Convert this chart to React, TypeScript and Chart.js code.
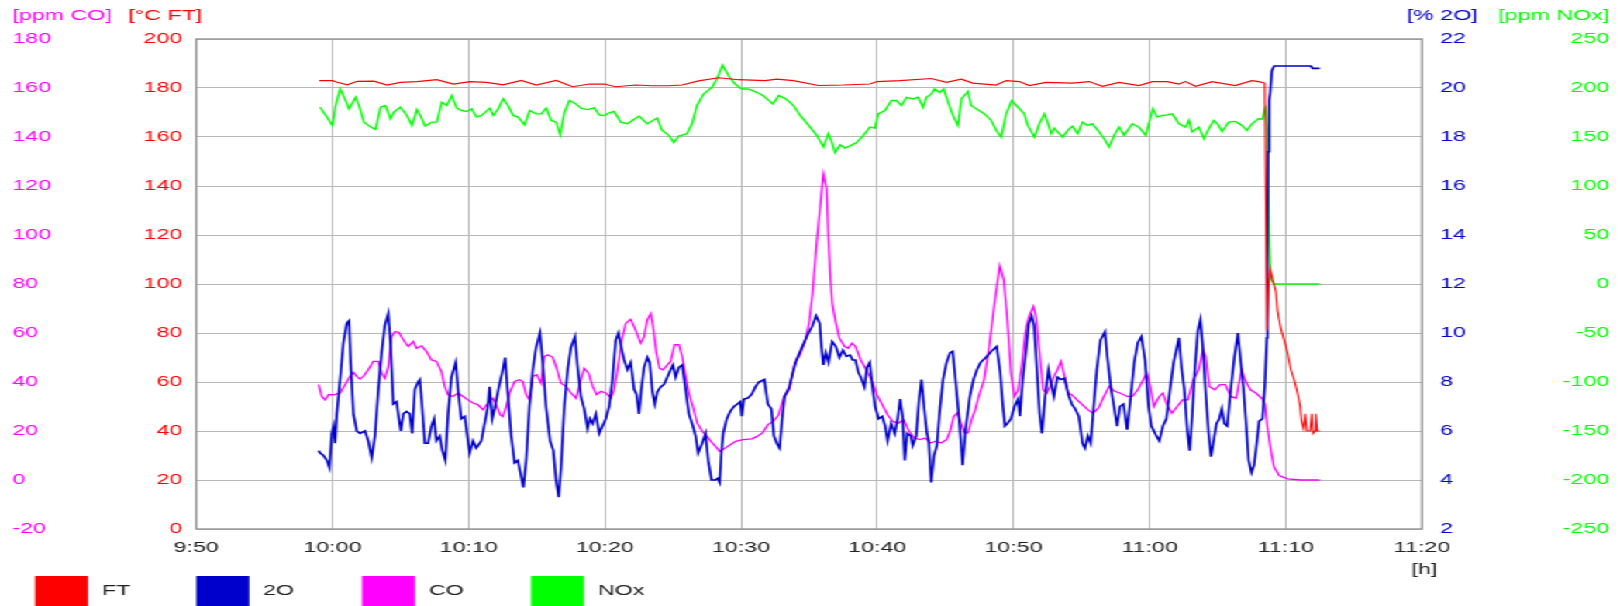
import React, { useEffect, useRef } from 'react';
import { Chart, registerables } from 'chart.js';

Chart.register(...registerables);

// ---- data (x = minutes after midnight, 9:50 = 590) ----
const xMin = 590;
const xMax = 680;

const ftSeries: number[][] = [
[599.03,183.0],[600.0,183.0],[600.36,182.3],[601.09,181.3],[601.82,182.7],[603.04,182.8],[604.01,181.2],[604.99,182.3],[606.20,182.6],[607.66,183.4],[608.88,181.6],[610.10,182.6],[611.31,182.3],[612.53,181.3],[613.87,183.1],[614.96,181.2],[616.42,183.1],[617.64,180.5],[618.86,181.6],[619.95,181.6],[620.80,180.5],[622.26,181.2],[623.48,180.9],[624.70,180.9],[625.67,181.2],[626.89,182.9],[628.35,184.2],[629.81,183.4],[631.75,183.0],[632.63,183.6],[633.85,183.0],[635.68,181.0],[637.51,181.2],[639.46,181.6],[640.0,182.6],[641.66,183.0],[643.98,183.9],[645.07,182.3],[646.17,183.6],[647.02,182.0],[648.73,181.2],[649.46,183.0],[650.44,182.6],[651.17,181.0],[652.39,182.3],[654.34,182.0],[655.56,182.6],[656.54,180.7],[657.76,182.3],[659.22,181.0],[660.20,182.6],[661.29,182.6],[662.15,181.6],[662.63,182.6],[663.37,180.7],[664.59,182.6],[666.29,181.0],[667.51,183.0],[668.0,182.6],[668.45,182.0],[668.55,120],[668.62,81],[668.75,100],[668.85,106],[669.02,102],[669.27,97],[669.39,89],[669.63,82],[669.88,77],[670.12,72],[670.37,65],[670.61,61],[670.86,55.5],[671.05,50],[671.15,44],[671.30,41],[671.42,47],[671.54,40],[671.79,40],[671.91,47],[672.0,39],[672.13,40],[672.2,47],[672.32,40],[672.5,40]
];

const o2Series: number[][] = [
[598.98,5.2],[599.10,5.1],[599.34,5.0],[599.59,4.8],[599.78,4.5],[599.95,5.9],[600.07,6.2],[600.20,5.5],[600.32,6.7],[600.56,8.1],[600.80,9.6],[601.05,10.4],[601.22,10.5],[601.34,8.8],[601.54,6.7],[601.78,6.0],[602.02,5.9],[602.39,6.0],[602.63,5.6],[602.88,4.9],[603.12,5.8],[603.37,7.7],[603.61,9.2],[603.85,10.3],[604.10,10.8],[604.27,9.5],[604.46,7.1],[604.71,7.2],[604.83,6.7],[605.02,6.0],[605.20,6.7],[605.44,6.8],[605.68,6.7],[605.85,5.9],[606.05,7.7],[606.29,8.0],[606.41,8.1],[606.54,7.3],[606.78,5.5],[607.02,5.5],[607.27,6.2],[607.46,6.5],[607.63,5.6],[607.88,5.8],[608.07,5.2],[608.29,4.8],[608.49,6.7],[608.73,8.2],[609.05,8.8],[609.22,7.7],[609.46,6.5],[609.71,6.6],[610.07,5.1],[610.32,5.6],[610.56,5.3],[610.93,5.6],[611.17,6.3],[611.41,7.0],[611.54,7.8],[611.73,6.5],[611.90,6.9],[612.22,7.8],[612.51,8.5],[612.68,9.0],[612.88,7.5],[613.12,5.8],[613.37,4.7],[613.61,4.8],[613.78,4.35],[614.02,3.7],[614.22,4.8],[614.46,7.0],[614.71,8.5],[614.95,9.4],[615.24,10.0],[615.44,8.8],[615.68,7.0],[615.98,5.6],[616.22,5.2],[616.41,4.0],[616.61,3.3],[616.78,4.5],[617.02,7.0],[617.27,8.5],[617.51,9.4],[617.80,9.85],[618.00,8.6],[618.24,7.4],[618.49,6.9],[618.73,6.1],[618.90,6.5],[619.10,6.3],[619.34,6.7],[619.59,5.9],[619.83,6.2],[620.07,6.5],[620.32,7.0],[620.56,8.1],[620.80,9.7],[621.00,10.0],[621.17,9.5],[621.41,8.9],[621.66,8.5],[621.90,8.8],[622.15,7.7],[622.32,7.5],[622.51,6.7],[622.68,7.7],[622.88,8.6],[623.12,9.0],[623.29,8.8],[623.49,7.6],[623.66,7.1],[623.85,7.6],[624.10,7.8],[624.34,7.9],[624.59,8.2],[624.83,8.5],[625.00,8.7],[625.20,8.2],[625.44,8.6],[625.68,8.7],[625.93,7.7],[626.17,6.7],[626.41,6.3],[626.66,5.8],[626.85,5.1],[627.15,5.5],[627.39,5.9],[627.59,4.8],[627.83,4.0],[628.12,4.0],[628.29,4.07],[628.43,3.9],[628.56,5.1],[628.69,5.9],[628.95,6.5],[629.21,6.8],[629.48,7.0],[629.74,7.1],[629.95,7.2],[630.05,6.6],[630.21,7.3],[630.52,7.35],[630.79,7.5],[631.05,7.8],[631.31,8.0],[631.71,8.1],[631.97,7.1],[632.23,6.9],[632.41,5.8],[632.62,5.5],[632.83,5.3],[633.02,6.5],[633.20,7.4],[633.54,7.8],[633.81,8.4],[634.07,8.9],[634.46,9.4],[634.86,9.9],[635.25,10.3],[635.51,10.7],[635.77,10.4],[635.91,9.4],[636.04,8.7],[636.22,9.2],[636.43,8.8],[636.69,9.65],[636.96,9.45],[637.22,9.0],[637.48,9.3],[637.74,9.05],[638.01,9.1],[638.19,8.9],[638.40,8.9],[638.61,8.4],[638.79,8.2],[639.06,7.8],[639.24,8.6],[639.45,8.8],[639.63,7.9],[639.84,7.0],[640.10,6.5],[640.37,6.6],[640.58,6.2],[640.76,5.6],[641.02,6.3],[641.29,5.9],[641.50,6.5],[641.68,7.3],[641.86,6.6],[642.02,4.8],[642.20,5.9],[642.47,5.8],[642.60,5.4],[642.86,5.8],[643.07,7.3],[643.25,8.1],[643.44,7.0],[643.65,5.9],[643.78,5.6],[643.96,3.9],[644.17,5.0],[644.38,5.4],[644.57,6.7],[644.83,8.1],[645.09,8.8],[645.35,9.2],[645.54,9.25],[645.75,8.1],[646.01,6.5],[646.27,4.6],[646.48,6.05],[646.80,7.4],[647.06,8.1],[647.32,8.5],[647.59,8.8],[647.98,9.0],[648.37,9.25],[648.77,9.45],[649.03,8.4],[649.21,7.1],[649.37,6.2],[649.55,6.3],[649.82,6.5],[650.08,7.0],[650.34,7.3],[650.47,6.6],[650.68,8.1],[650.87,9.0],[651.13,10.4],[651.34,10.7],[651.52,10.3],[651.73,8.4],[651.92,6.7],[652.10,5.9],[652.31,7.3],[652.57,8.5],[652.78,7.9],[652.97,7.4],[653.23,8.2],[653.49,8.1],[653.75,8.15],[654.02,7.5],[654.28,7.1],[654.54,6.9],[654.80,6.6],[655.07,5.5],[655.25,5.3],[655.46,5.8],[655.67,5.5],[655.85,6.7],[656.12,8.5],[656.38,9.7],[656.72,10.05],[656.90,9.0],[657.17,7.7],[657.38,7.0],[657.61,6.2],[657.82,7.0],[658.08,7.1],[658.35,6.05],[658.61,7.4],[658.87,8.8],[659.13,9.6],[659.40,9.85],[659.66,8.9],[659.92,7.0],[660.13,6.2],[660.45,5.85],[660.71,5.6],[660.97,6.2],[661.23,6.5],[661.50,7.7],[661.76,8.8],[662.15,9.8],[662.34,8.6],[662.55,7.7],[662.76,6.05],[662.94,5.2],[663.12,6.6],[663.33,8.6],[663.54,10.1],[663.73,10.55],[663.91,9.4],[664.12,7.5],[664.33,5.9],[664.51,4.95],[664.70,5.6],[664.91,6.3],[665.12,6.5],[665.30,6.9],[665.49,6.3],[665.70,6.2],[665.96,7.7],[666.22,9.0],[666.48,10.0],[666.69,8.8],[666.88,7.8],[667.06,6.5],[667.27,4.8],[667.48,4.3],[667.66,4.6],[667.80,5.2],[668.04,6.4],[668.29,6.5],[668.46,7.9],[668.60,9.8],[668.65,13.4],[668.70,17.4],[668.78,19.5],[668.85,19.8],[668.97,20.7],[669.14,20.9],[671.84,20.9],[671.96,20.8],[672.50,20.8]
];

const coSeries: number[][] = [
[598.98,38.9],[599.22,34.1],[599.46,32.7],[599.71,34.8],[600.07,34.8],[600.56,35.5],[600.93,38.9],[601.29,42.3],[601.54,43.9],[601.78,42.3],[602.02,41.2],[602.27,42.3],[602.63,45.0],[603.00,48.4],[603.37,48.4],[603.61,43.6],[603.85,41.5],[604.10,46.3],[604.34,58.5],[604.59,60.6],[604.88,60.2],[605.20,57.2],[605.56,54.5],[605.93,56.5],[606.17,53.8],[606.54,54.7],[606.90,52.5],[607.27,49.0],[607.63,48.4],[608.00,44.3],[608.24,38.2],[608.49,34.8],[608.85,34.1],[609.22,35.5],[609.59,34.1],[609.95,32.7],[610.32,31.4],[610.68,30.7],[611.05,28.7],[611.41,31.4],[611.78,33.4],[612.07,30.0],[612.32,26.6],[612.51,25.9],[612.76,30.0],[613.00,35.5],[613.37,40.2],[613.73,40.9],[613.98,40.2],[614.22,34.8],[614.46,32.7],[614.71,42.3],[615.00,43.0],[615.32,39.5],[615.56,50.4],[615.80,51.1],[616.17,50.1],[616.46,45.6],[616.78,39.5],[617.15,38.2],[617.51,35.5],[617.88,33.4],[618.24,40.9],[618.49,45.6],[618.80,43.6],[619.10,38.2],[619.39,34.8],[619.71,36.2],[620.07,35.5],[620.44,33.4],[620.68,36.8],[620.93,45.0],[621.24,57.2],[621.54,64.0],[621.90,65.6],[622.15,62.6],[622.39,59.2],[622.63,55.8],[622.88,58.5],[623.12,65.3],[623.37,68.0],[623.54,62.6],[623.78,51.8],[624.02,45.6],[624.27,45.0],[624.59,47.0],[624.83,48.4],[625.12,55.2],[625.44,55.2],[625.68,50.4],[625.93,42.3],[626.17,35.5],[626.46,30.0],[626.78,23.2],[627.15,19.9],[627.51,17.8],[627.88,15.1],[628.24,13.0],[628.43,11.7],[628.82,13.0],[629.21,14.4],[629.61,15.8],[630.13,16.5],[630.79,16.8],[631.18,17.8],[631.57,19.2],[631.97,22.6],[632.36,23.9],[632.76,26.6],[633.15,34.1],[633.54,36.8],[633.94,47.7],[634.33,51.1],[634.72,57.2],[634.99,64.0],[635.25,76],[635.55,96.7],[635.80,111],[636.04,125],[636.28,119],[636.40,101],[636.55,83.5],[636.70,72],[636.96,64.0],[637.22,57.9],[637.61,54.5],[637.87,53.8],[638.14,55.8],[638.40,54.5],[638.79,49.0],[639.19,45.0],[639.58,40.9],[639.97,34.8],[640.37,30.7],[640.76,26.6],[641.15,23.9],[641.55,23.2],[641.94,24.6],[642.34,19.9],[642.73,17.1],[643.12,16.5],[643.52,17.1],[643.91,15.1],[644.30,15.8],[644.70,15.1],[645.09,16.5],[645.35,19.9],[645.62,26.0],[645.88,27.3],[646.14,23.2],[646.40,19.2],[646.67,19.2],[646.93,24.6],[647.19,28.7],[647.45,34.1],[647.85,40.9],[648.11,50.4],[648.37,61.3],[648.64,73.5],[648.85,81.6],[649.00,87.4],[649.29,81.6],[649.55,65.3],[649.82,43.6],[650.08,34.1],[650.34,36.8],[650.60,46.3],[650.87,59.9],[651.13,66.7],[651.47,70.8],[651.65,66.7],[651.92,51.8],[652.18,36.8],[652.44,35.5],[652.70,38.2],[652.97,42.3],[653.23,45.0],[653.49,48.4],[653.75,42.3],[654.02,35.5],[654.28,34.8],[654.67,32.7],[655.07,30.7],[655.46,28.7],[655.85,27.3],[656.25,29.4],[656.64,34.1],[657.03,38.2],[657.43,36.2],[657.82,35.5],[658.35,34.1],[658.74,34.1],[659.13,36.8],[659.53,40.9],[659.79,43.6],[660.05,38.2],[660.31,30.0],[660.71,34.1],[660.97,35.5],[661.23,31.4],[661.63,27.3],[662.02,30.0],[662.41,32.7],[662.81,32.7],[663.20,40.9],[663.60,45.0],[663.91,53.1],[664.12,50.4],[664.38,38.2],[664.78,36.8],[665.17,38.9],[665.56,38.9],[665.96,34.1],[666.35,33.4],[666.75,45.0],[667.01,40.9],[667.40,36.8],[667.80,35.5],[668.29,33.0],[668.46,31.0],[668.65,21.4],[668.90,12.0],[669.14,5.2],[669.51,1.8],[670.12,0.5],[671.10,0],[672.50,0]
];

const noxSeries: number[][] = [
[599.10,180.4],[599.51,172.0],[600.0,161.8],[600.24,182.1],[600.56,199.0],[600.85,190.9],[601.22,178.7],[601.70,190.5],[601.95,182.1],[602.31,165.2],[602.80,160.1],[603.16,157.8],[603.53,180.4],[603.89,182.1],[604.26,168.6],[604.50,175.3],[604.99,180.4],[605.47,172.0],[605.84,161.8],[606.20,178.0],[606.45,172.0],[606.81,161.1],[607.30,165.2],[607.66,165.2],[608.03,185.5],[608.39,182.1],[608.76,192.2],[609.12,179.4],[609.49,177.0],[609.85,176.0],[610.22,178.7],[610.58,170.3],[610.95,172.0],[611.56,179.4],[611.80,172.0],[612.17,178.7],[612.53,188.9],[612.90,182.1],[613.26,172.0],[613.63,170.3],[614.11,162.5],[614.48,177.0],[614.96,173.6],[615.33,173.6],[615.69,179.4],[616.06,166.9],[616.42,165.2],[616.72,152.4],[617.03,175.3],[617.40,187.2],[617.88,183.8],[618.25,179.4],[618.73,178.0],[619.22,179.7],[619.59,172.6],[619.95,172.0],[620.32,174.7],[620.68,176.0],[621.17,165.2],[621.65,163.5],[622.02,166.9],[622.51,171.3],[623.11,163.5],[623.84,169.3],[624.21,156.8],[624.70,151.7],[625.06,144.3],[625.43,151.0],[626.03,153.4],[626.40,163.5],[626.76,182.1],[627.25,193.9],[627.86,200.7],[628.22,209.1],[628.64,223.3],[629.08,212.5],[629.56,204.1],[630.05,199.0],[630.54,199.0],[631.14,195.6],[631.63,192.2],[631.90,188.9],[632.34,183.8],[632.76,192.2],[633.24,189.5],[633.85,182.1],[634.34,172.0],[635.07,160.1],[635.56,151.7],[636.05,139.9],[636.41,153.4],[636.66,145.0],[636.90,134.1],[637.27,142.2],[637.63,138.8],[638.0,140.9],[638.49,144.3],[638.98,151.7],[639.46,160.1],[639.83,159.1],[640.07,173.6],[640.56,177.0],[641.05,187.2],[641.41,187.2],[641.78,182.1],[642.15,190.5],[642.63,188.9],[643.0,190.5],[643.37,180.4],[643.61,190.5],[643.98,194.0],[644.22,199.0],[644.59,195.6],[644.88,199.0],[645.20,185.5],[645.56,172.0],[645.93,161.8],[646.17,188.9],[646.66,196.3],[646.90,182.1],[647.27,178.7],[647.88,173.6],[648.37,166.9],[648.73,156.8],[649.10,150.0],[649.46,173.6],[649.88,187.2],[650.32,180.4],[650.80,173.6],[651.05,161.8],[651.54,150.0],[651.90,163.5],[652.27,173.6],[652.51,165.2],[652.76,153.4],[653.0,159.1],[653.24,155.1],[653.61,150.0],[653.98,156.8],[654.34,161.1],[654.71,153.4],[655.07,165.2],[655.44,161.8],[655.80,163.5],[656.29,155.1],[656.66,148.3],[657.02,139.9],[657.39,151.7],[657.76,160.1],[658.12,151.7],[658.73,163.5],[659.22,160.1],[659.71,151.7],[660.07,170.3],[660.24,178.7],[660.56,170.3],[660.93,172.0],[661.29,172.6],[661.66,173.6],[662.15,163.5],[662.63,160.1],[662.88,166.9],[663.12,155.1],[663.61,160.1],[663.98,148.3],[664.34,158.4],[664.71,166.9],[665.07,161.8],[665.32,155.7],[665.80,165.2],[666.29,165.9],[666.78,161.8],[667.15,156.8],[667.51,163.5],[668.0,168.6],[668.29,168.4],[668.46,178.6],[668.52,180],[668.65,150],[668.78,40],[668.90,5],[669.14,0],[672.5,0]
];

const legendLabels = ['FT', '2O', 'CO', 'NOx'];
const axisTitles = ['[ppm CO]', '[°C FT]', '[% 2O]', '[ppm NOx]'];
const xAxisUnit = '[h]';

// ---- styling ----
const W = 1045;
const H = 606;
const SX = 1620 / W;
const FONT = '"Liberation Sans", Arial, Helvetica, sans-serif';
const C_FT = '#ff0000';
const C_O2 = '#0000cc';
const C_CO = '#ff00ff';
const C_NOX = '#00ff00';
const GRID = '#b8b8b8';

const toXY = (s: number[][]) => s.map(([x, y]) => ({ x, y }));
const fmtTime = (v: number) => {
  const h = Math.floor(v / 60);
  const m = Math.round(v - h * 60);
  return `${h}:${String(m).padStart(2, '0')}`;
};

const decorPlugin = {
  id: 'decor',
  beforeDatasetsDraw(chart: any) {
    const { ctx, chartArea: a } = chart;
    ctx.save();
    ctx.strokeStyle = '#959595';
    ctx.lineWidth = 1.4;
    ctx.strokeRect(a.left, a.top, a.right - a.left, a.bottom - a.top);
    ctx.restore();
  },
  afterDraw(chart: any) {
    const { ctx } = chart;
    const s = chart.scales;
    ctx.save();
    ctx.font = `15px ${FONT}`;
    ctx.textBaseline = 'middle';
    // axis titles
    ctx.textAlign = 'left';
    ctx.fillStyle = C_CO;
    ctx.fillText(axisTitles[0], s.yCO.left, 16);
    ctx.fillStyle = C_FT;
    ctx.fillText(axisTitles[1], 82.8, 16);
    ctx.fillStyle = C_O2;
    ctx.fillText(axisTitles[2], 907.4, 16);
    ctx.textAlign = 'right';
    ctx.fillStyle = C_NOX;
    ctx.fillText(axisTitles[3], s.yNOx.right, 16);
    // x unit
    ctx.textAlign = 'left';
    ctx.fillStyle = '#222';
    ctx.fillText(xAxisUnit, 910.6, 570);
    // legend
    const colors = [C_FT, C_O2, C_CO, C_NOX];
    const boxX = [22.6, 126.6, 233.5, 342.5];
    const textX = [65.8, 169.7, 276.7, 385.7];
    legendLabels.forEach((lab, i) => {
      ctx.fillStyle = colors[i];
      ctx.fillRect(boxX[i], 576, 34.2, 30);
      ctx.fillStyle = '#222';
      ctx.textAlign = 'left';
      ctx.fillText(lab, textX[i], 591);
    });
    ctx.restore();
  },
};

export default function App() {
  const ref = useRef<HTMLCanvasElement | null>(null);

  useEffect(() => {
    if (!ref.current) return;
    const tickFont = { family: FONT, size: 15 };
    const chart = new Chart(ref.current, {
      type: 'line',
      data: {
        datasets: [
          { label: legendLabels[0], data: toXY(ftSeries), yAxisID: 'yFT', borderColor: C_FT, borderWidth: 1.1, pointRadius: 0, tension: 0 },
          { label: legendLabels[1], data: toXY(o2Series), yAxisID: 'yO2', borderColor: C_O2, borderWidth: 1.6, pointRadius: 0, tension: 0 },
          { label: legendLabels[2], data: toXY(coSeries), yAxisID: 'yCO', borderColor: C_CO, borderWidth: 1.3, pointRadius: 0, tension: 0 },
          { label: legendLabels[3], data: toXY(noxSeries), yAxisID: 'yNOx', borderColor: C_NOX, borderWidth: 1.4, pointRadius: 0, tension: 0 },
        ],
      },
      options: {
        animation: false,
        responsive: false,
        devicePixelRatio: 1,
        parsing: true,
        layout: { padding: { left: 8, right: 6.9, top: 39, bottom: 0 } },
        plugins: { legend: { display: false }, tooltip: { enabled: false }, title: { display: false } },
        scales: {
          x: {
            type: 'linear',
            min: xMin,
            max: xMax,
            ticks: { stepSize: 10, callback: (v: any) => fmtTime(Number(v)), color: '#222', font: tickFont, padding: 10, maxRotation: 0, autoSkip: false },
            grid: { color: GRID, lineWidth: 1, drawTicks: false },
            border: { display: false },
            afterFit: (sc: any) => { sc.height = 77; },
          },
          yCO: {
            type: 'linear',
            position: 'left',
            weight: 1,
            min: -20,
            max: 180,
            ticks: { stepSize: 20, color: C_CO, font: tickFont, crossAlign: 'far', padding: 0 },
            grid: { display: false, drawTicks: false },
            border: { display: false },
            afterFit: (sc: any) => { sc.width = 60; },
          },
          yFT: {
            type: 'linear',
            position: 'left',
            weight: 0,
            min: 0,
            max: 200,
            ticks: { stepSize: 20, color: C_FT, font: tickFont, padding: 9 },
            grid: { color: GRID, lineWidth: 1, drawTicks: false },
            border: { display: false },
            afterFit: (sc: any) => { sc.width = 58.6; },
          },
          yO2: {
            type: 'linear',
            position: 'right',
            weight: 0,
            min: 2,
            max: 22,
            ticks: { stepSize: 2, color: C_O2, font: tickFont, padding: 11.6 },
            grid: { display: false, drawTicks: false },
            border: { display: false },
            afterFit: (sc: any) => { sc.width = 50; },
          },
          yNOx: {
            type: 'linear',
            position: 'right',
            weight: 1,
            min: -250,
            max: 250,
            ticks: { stepSize: 50, color: C_NOX, font: tickFont, crossAlign: 'far', padding: 0 },
            grid: { display: false, drawTicks: false },
            border: { display: false },
            afterFit: (sc: any) => { sc.width = 70.8; },
          },
        },
      } as any,
      plugins: [decorPlugin],
    });
    return () => chart.destroy();
  }, []);

  return (
    <div
      style={{
        position: 'absolute',
        left: 0,
        top: 0,
        width: W,
        height: H,
        transform: `scaleX(${SX})`,
        transformOrigin: '0 0',
        background: '#fff',
      }}
    >
      <canvas ref={ref} width={W} height={H} />
    </div>
  );
}
